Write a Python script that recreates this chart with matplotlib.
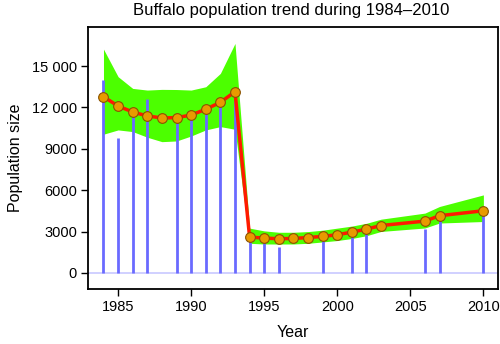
import matplotlib.pyplot as plt
from matplotlib.ticker import FuncFormatter

plt.rcParams['font.family'] = ['Liberation Sans', 'DejaVu Sans']

# fitted trend (red line / orange points) with its band
fit_years = [1984, 1985, 1986, 1987, 1988, 1989, 1990, 1991, 1992, 1993,
             1994, 1995, 1996, 1997, 1998, 1999, 2000, 2001, 2002, 2003,
             2006, 2007, 2010]
fit_values = [12780, 12100, 11670, 11380, 11240, 11260, 11450, 11870, 12370, 13140,
              2600, 2530, 2480, 2500, 2570, 2650, 2770, 2960, 3180, 3440,
              3760, 4150, 4510]
band_upper = [16230, 14230, 13380, 13260, 13310, 13300, 13260, 13500, 14470, 16640,
              3250, 3050, 2950, 2950, 3000, 3100, 3250, 3400, 3600, 3900,
              4340, 4820, 5660]
band_lower = [10060, 10370, 10250, 9840, 9520, 9570, 9930, 10370, 10610, 10420,
              2150, 2100, 2100, 2100, 2150, 2250, 2350, 2500, 2700, 3010,
              3260, 3620, 3730]

# raw counts (blue vertical lines)
count_years = [1984, 1985, 1986, 1987, 1989, 1990, 1991, 1992, 1993,
               1994, 1995, 1996, 1999, 2001, 2002, 2006, 2007, 2010]
count_values = [13990, 9810, 11600, 12610, 11200, 11400, 11800, 12200, 12900,
                2600, 2500, 1850, 2650, 2900, 3100, 3200, 4250, 4500]

fig = plt.figure(figsize=(5, 3.44), dpi=100)
ax = fig.add_axes([0.176, 0.16, 0.82, 0.761])

ax.axhline(0, color='#c8c8ff', lw=1.2, zorder=1)
ax.fill_between(fit_years, band_lower, band_upper, color='#4cff00', lw=0, zorder=2)
ax.vlines(count_years, 0, count_values, color='#6a6aff', lw=2, zorder=3)
ax.plot(fit_years, fit_values, color='#ff1a00', lw=2.5, zorder=4)
ax.plot(fit_years, fit_values, 'o', ms=7, mfc='#e89a00', mec='#8a5200', mew=0.8, zorder=5)

ax.set_xlim(1982.94, 2011.0)
ax.set_ylim(-1160, 17820)
ax.set_xticks([1985, 1990, 1995, 2000, 2005, 2010])
ax.set_yticks([0, 3000, 6000, 9000, 12000, 15000])


def fmt(v, pos):
    v = int(v)
    if v >= 10000:
        return f"{v // 1000} {v % 1000:03d}"
    return str(v)


ax.yaxis.set_major_formatter(FuncFormatter(fmt))
ax.tick_params(direction='out', length=5, width=1, labelsize=10.5, pad=3)
for s in ax.spines.values():
    s.set_linewidth(1.3)

ax.set_xlabel('Year', fontsize=11.5, labelpad=8)
ax.set_ylabel('Population size', fontsize=11.5, labelpad=6)
fig.text(0.583, 0.99, 'Buffalo population trend during 1984\u20132010',
         ha='center', va='top', fontsize=12)

fig.savefig('out.png', dpi=100)
